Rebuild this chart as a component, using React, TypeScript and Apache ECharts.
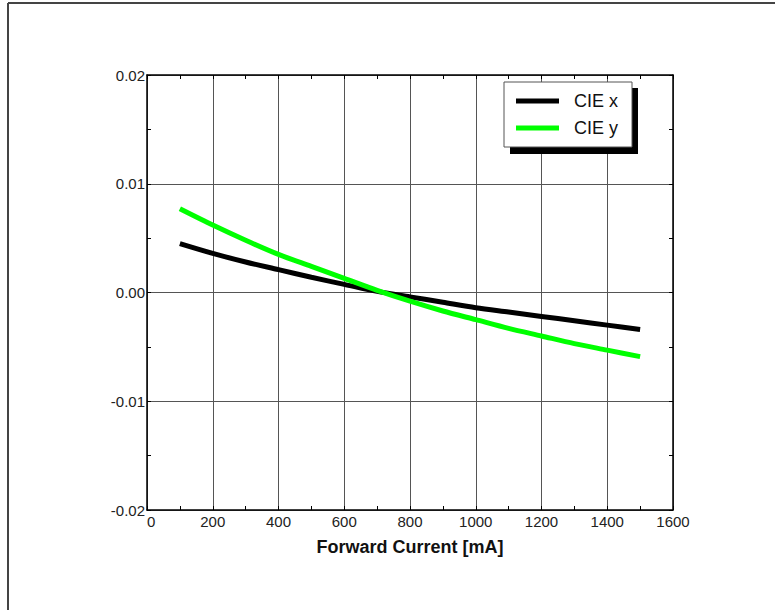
import React, { useEffect, useRef } from "react";
import * as echarts from "echarts";

const currents = [100, 200, 300, 400, 500, 600, 700, 800, 900, 1000, 1100, 1200, 1300, 1400, 1500];
const cieX = [0.0045, 0.0036, 0.0028, 0.0021, 0.0014, 0.00075, 0.0001, -0.0004, -0.0009, -0.0014, -0.0018, -0.0022, -0.0026, -0.003, -0.0034];
const cieY = [0.0077, 0.0062, 0.0048, 0.0035, 0.0024, 0.0013, 0.0002, -0.0008, -0.0017, -0.0025, -0.0033, -0.004, -0.0047, -0.0053, -0.0059];
const seriesNames = ["CIE x", "CIE y"];
const xTitle = "Forward Current [mA]";

const FONT = "'Liberation Sans', Arial, sans-serif";

export default function App() {
  const ref = useRef<HTMLDivElement>(null);
  useEffect(() => {
    if (!ref.current) return;
    const chart = echarts.init(ref.current, undefined, { renderer: "svg" });
    const axisCommon = {
      min: 0,
      max: 1600,
      interval: 200,
    };
    const yCommon = {
      min: -0.02,
      max: 0.02,
      interval: 0.01,
    };
    const minorTick = { show: true, splitNumber: 2, length: 4, lineStyle: { color: "#000", width: 1 } };
    chart.setOption({
      animation: false,
      backgroundColor: "#fff",
      grid: { left: 147, top: 75, width: 526, height: 435, containLabel: false },
      xAxis: [
        {
          type: "value",
          position: "bottom",
          ...axisCommon,
          name: xTitle,
          nameLocation: "middle",
          nameGap: 28,
          nameTextStyle: { fontFamily: FONT, fontSize: 18, fontWeight: "bold", color: "#111" },
          axisLine: { show: true, onZero: false, lineStyle: { color: "#000", width: 1.5 } },
          axisTick: { show: true, inside: true, length: 4, lineStyle: { color: "#000" } },
          minorTick,
          axisLabel: {
            fontFamily: FONT,
            fontSize: 15,
            color: "#222",
            margin: 4,
            alignMinLabel: "left",
            formatter: (v: number) => String(v),
          },
          splitLine: { show: true, lineStyle: { color: "#555", width: 1 } },
        },
        {
          type: "value",
          position: "top",
          ...axisCommon,
          axisLine: { show: true, onZero: false, lineStyle: { color: "#000", width: 1.5 } },
          axisTick: { show: true, inside: true, length: 4, lineStyle: { color: "#000" } },
          minorTick,
          axisLabel: { show: false },
          splitLine: { show: false },
        },
      ],
      yAxis: [
        {
          type: "value",
          position: "left",
          ...yCommon,
          axisLine: { show: true, onZero: false, lineStyle: { color: "#000", width: 1.5 } },
          axisTick: { show: true, inside: true, length: 4, lineStyle: { color: "#000" } },
          minorTick,
          axisLabel: {
            fontFamily: FONT,
            fontSize: 15,
            color: "#222",
            margin: 2,
            formatter: (v: number) => v.toFixed(2),
          },
          splitLine: { show: true, lineStyle: { color: "#555", width: 1 } },
        },
        {
          type: "value",
          position: "right",
          ...yCommon,
          axisLine: { show: true, onZero: false, lineStyle: { color: "#000", width: 1.5 } },
          axisTick: { show: true, inside: true, length: 4, lineStyle: { color: "#000" } },
          minorTick,
          axisLabel: { show: false },
          splitLine: { show: false },
        },
      ],
      legend: {
        orient: "vertical",
        left: 516,
        top: 90,
        icon: "rect",
        itemWidth: 43,
        itemHeight: 5,
        itemGap: 5,
        padding: 0,
        data: seriesNames,
        textStyle: { fontFamily: FONT, fontSize: 18, color: "#111", lineHeight: 22, padding: [0, 0, 0, 10] },
        z: 10,
      },
      graphic: [
        { type: "line", shape: { x1: 8, y1: 3, x2: 775, y2: 3 }, style: { stroke: "#444", lineWidth: 2 }, z: 1 },
        { type: "line", shape: { x1: 8, y1: 3, x2: 8, y2: 610 }, style: { stroke: "#444", lineWidth: 2 }, z: 1 },
        { type: "rect", shape: { x: 510, y: 88, width: 128, height: 66 }, style: { fill: "#000" }, z: 5 },
        { type: "rect", shape: { x: 504, y: 82, width: 128, height: 65 }, style: { fill: "#fff", stroke: "#555", lineWidth: 1 }, z: 6 },
      ],
      series: [
        {
          name: seriesNames[0],
          type: "line",
          xAxisIndex: 0,
          yAxisIndex: 0,
          data: currents.map((c, i) => [c, cieX[i]]),
          symbol: "none",
          smooth: 0.3,
          lineStyle: { color: "#000", width: 5 },
          itemStyle: { color: "#000" },
          z: 3,
        },
        {
          name: seriesNames[1],
          type: "line",
          xAxisIndex: 0,
          yAxisIndex: 0,
          data: currents.map((c, i) => [c, cieY[i]]),
          symbol: "none",
          smooth: 0.3,
          lineStyle: { color: "#00ff00", width: 5 },
          itemStyle: { color: "#00ff00" },
          z: 3,
        },
      ],
    });
    return () => chart.dispose();
  }, []);
  return (
    <div
      ref={ref}
      style={{ position: "fixed", left: 0, top: 0, width: 775, height: 610, background: "#fff" }}
    />
  );
}
